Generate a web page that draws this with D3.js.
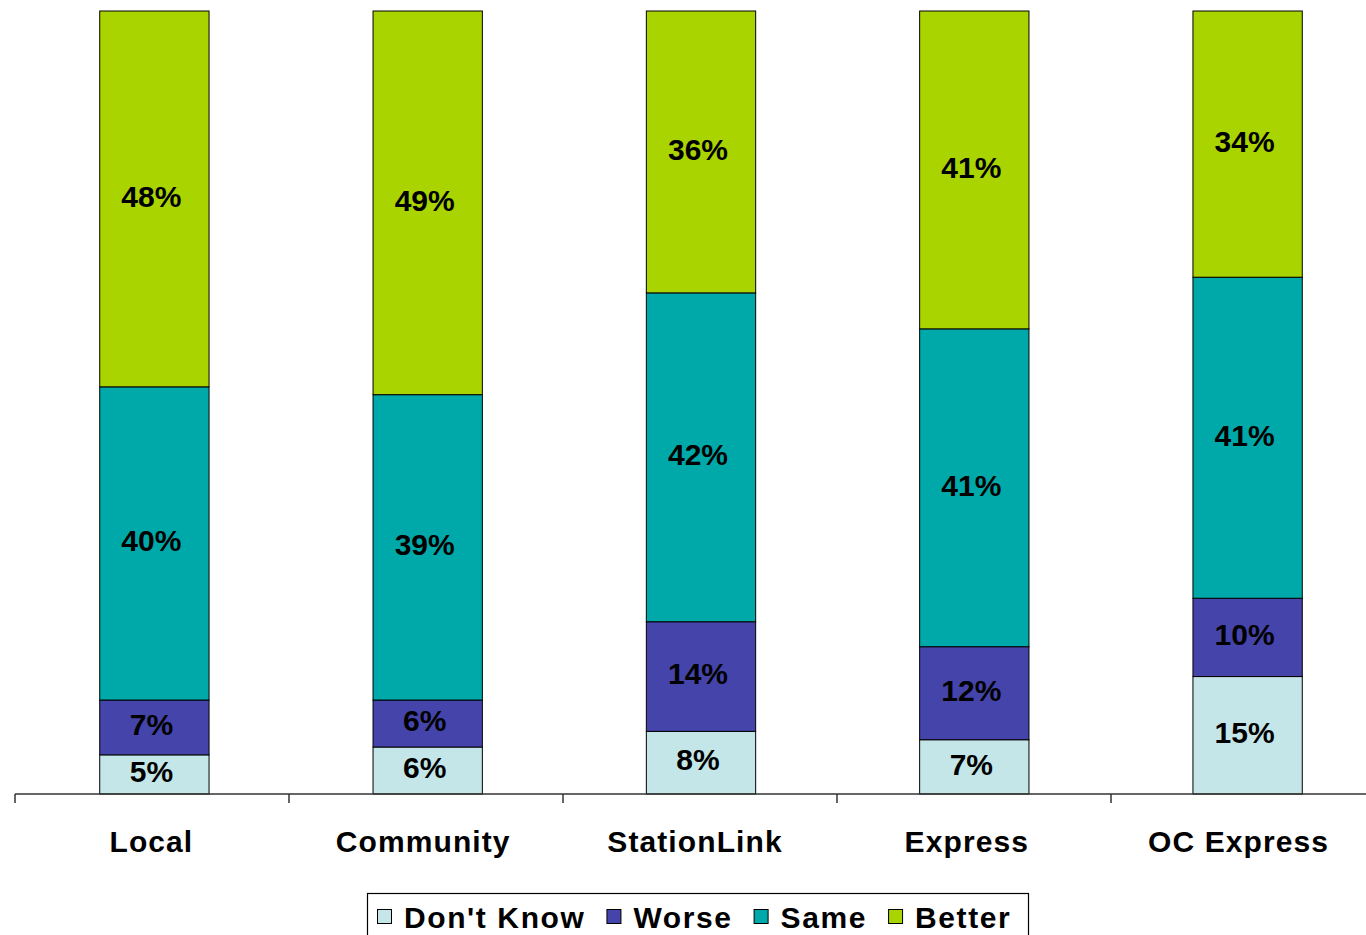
<!DOCTYPE html>
<html><head><meta charset="utf-8">
<script src="https://cdn.jsdelivr.net/npm/d3@7"></script>
<style>body{margin:0;background:#fff;overflow:hidden}svg{display:block;font-family:"Liberation Sans",Arial,sans-serif}</style>
</head><body>
<script>
const categories = ["Local","Community","StationLink","Express","OC Express"];
const seriesNames = ["Don't Know","Worse","Same","Better"];
const dontKnow = [5,6,8,7,15];
const worse = [7,6,14,12,10];
const same = [40,39,42,41,41];
const better = [48,49,36,41,34];
const colors = ["#C4E6E8","#4444AA","#00A9A9","#AAD400"];

(function(){
const W=1366,H=935;
const svg=d3.select("body").append("svg").attr("width",W).attr("height",H);
const plotTop=11,plotBottom=794,plotLeft=15,plotRight=1387;
const data=categories.map((c,i)=>({cat:c,"Don't Know":dontKnow[i],"Worse":worse[i],"Same":same[i],"Better":better[i]}));
const stack=d3.stack().keys(seriesNames).offset(d3.stackOffsetExpand);
const layers=stack(data);
const x=d3.scaleBand().domain(categories).range([plotLeft,plotRight]).paddingInner(0.6).paddingOuter(0.31);
const y=d3.scaleLinear().domain([0,1]).range([plotBottom,plotTop]);

layers.forEach((layer,li)=>{
  const g=svg.append("g");
  g.selectAll("rect").data(layer).join("rect")
    .attr("x",d=>x(d.data.cat)).attr("width",x.bandwidth())
    .attr("y",d=>y(d[1])).attr("height",d=>y(d[0])-y(d[1]))
    .attr("fill",colors[li]).attr("stroke","#000").attr("stroke-width",1);
  g.selectAll("text").data(layer).join("text")
    .attr("x",d=>x(d.data.cat)+x.bandwidth()/2-3)
    .attr("y",d=>(y(d[0])+y(d[1]))/2)
    .attr("dy","0.26em").attr("text-anchor","middle")
    .attr("font-size",30).attr("font-weight","bold").attr("fill","#000")
    .text(d=>d.data[layer.key]+"%");
});

const tickStep=(1111-15)/4;
const xa=svg.append("g");
xa.append("line").attr("x1",plotLeft).attr("x2",W).attr("y1",plotBottom).attr("y2",plotBottom).attr("stroke","#333").attr("stroke-width",1.5);
xa.selectAll("line.t").data(d3.range(categories.length)).join("line").attr("class","t")
  .attr("x1",i=>plotLeft+i*tickStep).attr("x2",i=>plotLeft+i*tickStep).attr("y1",plotBottom).attr("y2",plotBottom+9)
  .attr("stroke","#333").attr("stroke-width",1.5);
xa.selectAll("text").data(categories).join("text")
  .attr("x",(d,i)=>x(d)+x.bandwidth()/2-3-i*1.5).attr("y",852)
  .attr("text-anchor","middle").attr("font-size",30).attr("font-weight","bold")
  .attr("letter-spacing","1.1px").text(d=>d);

const lg=svg.append("g");
lg.append("rect").attr("x",367.5).attr("y",893.5).attr("width",661).attr("height",60).attr("fill","#fff").attr("stroke","#000").attr("stroke-width",1.2);
let cx=377;
seriesNames.forEach((s,i)=>{
  lg.append("rect").attr("x",cx+0.5).attr("y",909.5).attr("width",14).attr("height",14).attr("fill",colors[i]).attr("stroke","#000").attr("stroke-width",1);
  const t=lg.append("text").attr("x",cx+27).attr("y",928).attr("font-size",30).attr("font-weight","bold").attr("letter-spacing","1.6px").text(s);
  cx=cx+27+t.node().getComputedTextLength()+21;
});
})();
</script>
</body></html>
